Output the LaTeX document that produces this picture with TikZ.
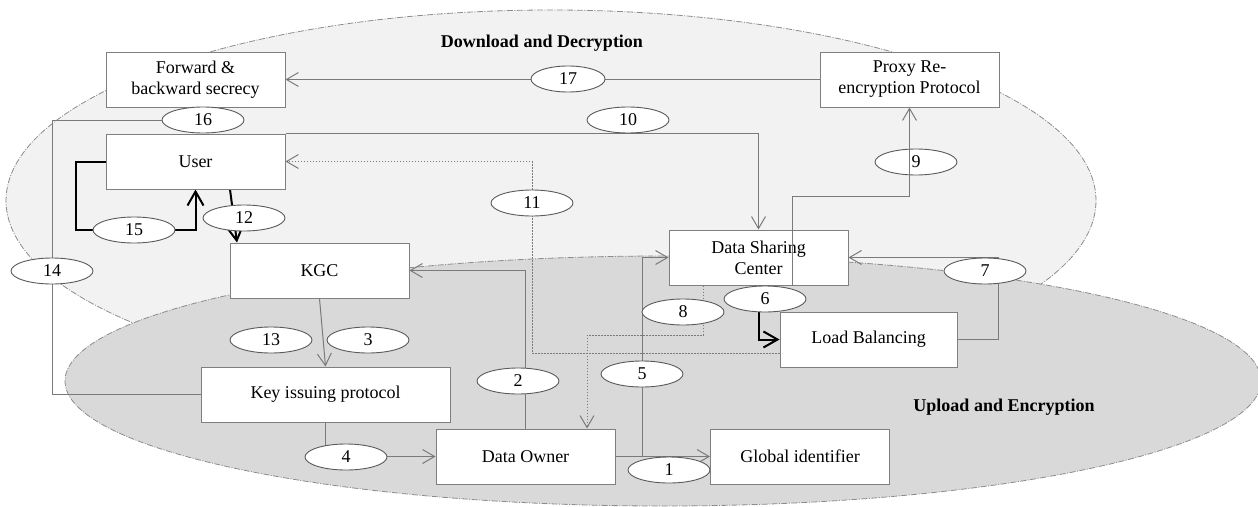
\documentclass[tikz,border=0pt]{standalone}
\usepackage{fontspec}
\setmainfont{Liberation Serif}
\usetikzlibrary{arrows.meta,shapes.geometric,calc}
\pgfdeclarelayer{regions}
\pgfdeclarelayer{links}
\pgfdeclarelayer{front}
\pgfsetlayers{regions,links,main,front}
\definecolor{boxgray}{HTML}{7F7F7F}
\definecolor{taggray}{HTML}{5A5A5A}
\definecolor{linegray}{HTML}{7A7A7A}
\definecolor{regiongray}{HTML}{8C8C8C}
\definecolor{upperfill}{HTML}{F2F2F2}
\definecolor{lowerfill}{HTML}{D9D9D9}

\begin{document}
\begin{tikzpicture}[x=1pt,y=-1pt,
  every node/.style={font=\fontsize{18}{21}\selectfont},
  box/.style={draw=boxgray, fill=white, line width=1pt, minimum width=179pt,
    minimum height=55pt, align=center, inner sep=2pt},
  tag/.style={ellipse, draw=taggray, fill=white, line width=0.9pt,
    minimum width=82pt, minimum height=26pt, inner sep=0pt},
  plain/.style={draw=linegray, line width=1pt},
  link/.style={plain, -{Straight Barb[length=12pt,width=14pt]}},
  dotlink/.style={link, dash pattern=on 1.5pt off 1.5pt},
  boldlink/.style={draw=black, line width=2pt, -{Straight Barb[length=14pt,width=16pt]}},
  region/.style={draw=regiongray, line width=0.8pt,
    dash pattern=on 6pt off 1.5pt on 1pt off 1.5pt},
  heading/.style={font=\fontsize{18}{21}\selectfont\bfseries}
]
\useasboundingbox (0,0) rectangle (1258,506);
\clip (0,0) rectangle (1258,506);

% the two phases
\begin{pgfonlayer}{regions}
  \filldraw[region, fill=upperfill] (551,200.6) ellipse [x radius=545pt, y radius=190.6pt];
  \filldraw[region, fill=lowerfill] (663,381) ellipse [x radius=598pt, y radius=125pt];
\end{pgfonlayer}

\node[heading] (hdown) at (542,43) {Download and Decryption};
\node[heading] (hup) at (1004,407) {Upload and Encryption};

% entities
\node[box] (fbs) at (195.5,79.5) {Forward \&\\backward secrecy};
\node[box] (user) at (195.5,161.5) {User};
\node[box] (kgc) at (319.5,270.5) {KGC};
\node[box, minimum width=249pt] (kip) at (325.5,394.5) {Key issuing protocol};
\node[box] (dow) at (525.5,456.5) {Data Owner};
\node[box] (gid) at (800,456.5) {Global identifier};
\node[box] (dsc) at (758.5,257.5) {Data Sharing\\Center};
\node[box, minimum width=177pt] (lb) at (868.5,339.5) {Load Balancing};
\node[box] (pre) at (909.5,79.5) {Proxy Re-\\encryption Protocol};

% step numbers
\node[tag, minimum width=74pt] (l17) at (568,79) {17};
\node[tag] (l16) at (203,120) {16};
\node[tag] (l10) at (628,120) {10};
\node[tag] (l15) at (134,230) {15};
\node[tag] (l12) at (244,218) {12};
\node[tag] (l11) at (532,203) {11};
\node[tag] (l9) at (916,162) {9};
\node[tag] (l14) at (52,271) {14};
\node[tag] (l13) at (271,340) {13};
\node[tag] (l3) at (368,340) {3};
\node[tag] (l2) at (518,381) {2};
\node[tag] (l8) at (683,312) {8};
\node[tag] (l6) at (765,299) {6};
\node[tag] (l7) at (985,271) {7};
\node[tag] (l5) at (642,374) {5};
\node[tag] (l4) at (346,457) {4};
\node[tag] (l1) at (669,470) {1};

% bends of the connectors
\coordinate (c14) at (52,120);
\coordinate (c11) at (532,161.5);
\coordinate (s11) at ([yshift=-13.5pt]lb.west);
\coordinate (c15a) at (76,230);
\coordinate (s12) at ([xshift=34.5pt]user.south);
\coordinate (t12) at ([xshift=-82.5pt]kgc.north);
\coordinate (s8) at ([xshift=-55.5pt]dsc.south);
\coordinate (c8) at (587,335);
\coordinate (t8) at ([xshift=61.5pt]dow.north);
\coordinate (c5) at (642,456.5);
\coordinate (c7) at (998,257.5);
\coordinate (s9) at ([xshift=33.5pt]dsc.south);
\coordinate (c9) at (909.5,196);

\begin{pgfonlayer}{links}
  \draw[link] (pre.west) -- (fbs.east);
  \draw[plain] (kip.west) -| (c14) -- (l16);
  \draw[link] (user.north east) -| (dsc.north);
  \draw[dotlink] (s11) -| (c11) -- (user.east);
  \draw[boldlink] (user.west) -| (c15a) -| (user.south);
  \draw[boldlink] (s12) -- (t12);
  \draw[link] (kgc.south) -- (kip.north);
  \draw[link] (kip.south) |- (dow.west);
  \draw[link] (dow.north) |- (kgc.east);
  \draw[dotlink] (s8) |- (c8) -- (t8);
  \draw[link] (dow.east) -- (gid.west);
  \draw[link] (c5) |- (dsc.west);
  \draw[boldlink] (dsc.south) |- (lb.west);
  \draw[link] (lb.east) -| (c7) -- (dsc.east);
\end{pgfonlayer}

\begin{pgfonlayer}{front}
  \draw[link] (s9) |- (c9) -- (pre.south);
\end{pgfonlayer}
\end{tikzpicture}
\end{document}
